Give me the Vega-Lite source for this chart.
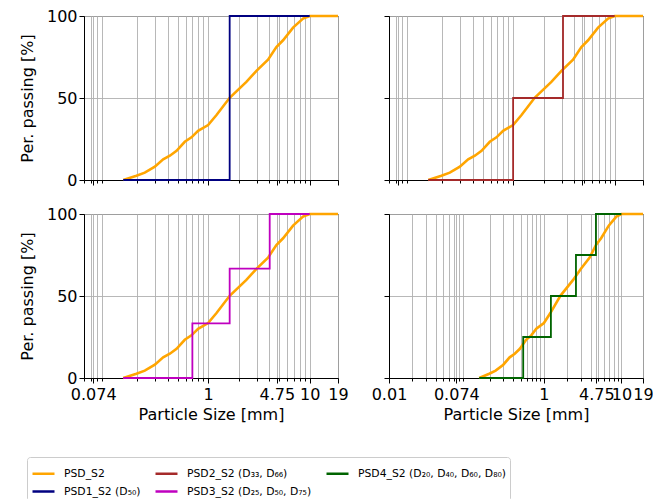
{
  "$schema": "https://vega.github.io/schema/vega-lite/v6.json",
  "padding": {"left": 18, "top": 7, "right": 5, "bottom": 5},
  "datasets": {
    "psd": [
      {"size": 0.146, "passing": 0, "series": "PSD_S2"},
      {"size": 0.197, "passing": 2.6, "series": "PSD_S2"},
      {"size": 0.238, "passing": 4.5, "series": "PSD_S2"},
      {"size": 0.299, "passing": 8.1, "series": "PSD_S2"},
      {"size": 0.361, "passing": 12.6, "series": "PSD_S2"},
      {"size": 0.42, "passing": 14.8, "series": "PSD_S2"},
      {"size": 0.489, "passing": 17.8, "series": "PSD_S2"},
      {"size": 0.589, "passing": 23.3, "series": "PSD_S2"},
      {"size": 0.686, "passing": 26, "series": "PSD_S2"},
      {"size": 0.797, "passing": 30, "series": "PSD_S2"},
      {"size": 1.0, "passing": 33.5, "series": "PSD_S2"},
      {"size": 1.21, "passing": 39.6, "series": "PSD_S2"},
      {"size": 1.63, "passing": 50.1, "series": "PSD_S2"},
      {"size": 2.38, "passing": 59.8, "series": "PSD_S2"},
      {"size": 2.99, "passing": 66.5, "series": "PSD_S2"},
      {"size": 3.89, "passing": 73.4, "series": "PSD_S2"},
      {"size": 4.7, "passing": 81.1, "series": "PSD_S2"},
      {"size": 5.47, "passing": 85.2, "series": "PSD_S2"},
      {"size": 6.86, "passing": 92.9, "series": "PSD_S2"},
      {"size": 8.6, "passing": 98.4, "series": "PSD_S2"},
      {"size": 10, "passing": 100, "series": "PSD_S2"},
      {"size": 19, "passing": 100, "series": "PSD_S2"}
    ],
    "steps": [
      {"panel": 1, "size": 0.146, "passing": 0, "series": "PSD1_S2 (D₅₀)"},
      {"panel": 1, "size": 1.63, "passing": 100, "series": "PSD1_S2 (D₅₀)"},
      {"panel": 1, "size": 10, "passing": 100, "series": "PSD1_S2 (D₅₀)"},
      {"panel": 2, "size": 0.146, "passing": 0, "series": "PSD2_S2 (D₃₃, D₆₆)"},
      {"panel": 2, "size": 1.0, "passing": 50, "series": "PSD2_S2 (D₃₃, D₆₆)"},
      {"panel": 2, "size": 3.1, "passing": 100, "series": "PSD2_S2 (D₃₃, D₆₆)"},
      {"panel": 2, "size": 10, "passing": 100, "series": "PSD2_S2 (D₃₃, D₆₆)"},
      {"panel": 3, "size": 0.146, "passing": 0, "series": "PSD3_S2 (D₂₅, D₅₀, D₇₅)"},
      {"panel": 3, "size": 0.70, "passing": 33.3, "series": "PSD3_S2 (D₂₅, D₅₀, D₇₅)"},
      {"panel": 3, "size": 1.63, "passing": 66.7, "series": "PSD3_S2 (D₂₅, D₅₀, D₇₅)"},
      {"panel": 3, "size": 4.04, "passing": 100, "series": "PSD3_S2 (D₂₅, D₅₀, D₇₅)"},
      {"panel": 3, "size": 10, "passing": 100, "series": "PSD3_S2 (D₂₅, D₅₀, D₇₅)"},
      {"panel": 4, "size": 0.146, "passing": 0, "series": "PSD4_S2 (D₂₀, D₄₀, D₆₀, D₈₀)"},
      {"panel": 4, "size": 0.54, "passing": 25, "series": "PSD4_S2 (D₂₀, D₄₀, D₆₀, D₈₀)"},
      {"panel": 4, "size": 1.23, "passing": 50, "series": "PSD4_S2 (D₂₀, D₄₀, D₆₀, D₈₀)"},
      {"panel": 4, "size": 2.59, "passing": 75, "series": "PSD4_S2 (D₂₀, D₄₀, D₆₀, D₈₀)"},
      {"panel": 4, "size": 4.69, "passing": 100, "series": "PSD4_S2 (D₂₀, D₄₀, D₆₀, D₈₀)"},
      {"panel": 4, "size": 10, "passing": 100, "series": "PSD4_S2 (D₂₀, D₄₀, D₆₀, D₈₀)"}
    ]
  },
  "columns": 2,
  "spacing": {"column": 21, "row": 16},
  "concat": [
    {
      "width": 254, "height": 164,
      "layer": [
        {
          "data": {"name": "psd"},
          "mark": {"type": "line", "strokeWidth": 2.6},
          "encoding": {
            "x": {"field": "size", "type": "quantitative", "scale": {"type": "log", "domain": [0.06, 19], "nice": false},
                  "axis": {"title": null, "labels": false, "values": [0.06,0.07,0.074,0.08,0.09,0.2,0.3,0.4,0.5,0.6,0.7,0.8,0.9,1,2,3,4,4.75,5,6,7,8,9,10,19],
                           "tickSize": {"condition": {"test": "indexof([0.01,0.074,1,4.75,10,19], datum.value) >= 0", "value": 5}, "value": 3}}},
            "y": {"field": "passing", "type": "quantitative", "scale": {"domain": [0, 100], "nice": false},
                  "axis": {"title": "Per. passing [%]", "values": [0, 50, 100]}},
            "color": {"field": "series", "type": "nominal",
                      "scale": {"domain": ["PSD_S2", "PSD2_S2 (D₃₃, D₆₆)", "PSD4_S2 (D₂₀, D₄₀, D₆₀, D₈₀)", "PSD1_S2 (D₅₀)", "PSD3_S2 (D₂₅, D₅₀, D₇₅)"],
                                "range": ["#FFA500", "#A52A2A", "#006400", "#000080", "#BF00BF"]}}
          }
        },
        {
          "data": {"name": "steps"},
          "transform": [{"filter": "datum.panel == 1"}],
          "mark": {"type": "line", "strokeWidth": 1.8, "interpolate": "step-after"},
          "encoding": {
            "x": {"field": "size", "type": "quantitative"},
            "y": {"field": "passing", "type": "quantitative"},
            "color": {"field": "series", "type": "nominal"}
          }
        }
      ]
    },
    {
      "width": 254, "height": 164,
      "layer": [
        {
          "data": {"name": "psd"},
          "mark": {"type": "line", "strokeWidth": 2.6},
          "encoding": {
            "x": {"field": "size", "type": "quantitative", "scale": {"type": "log", "domain": [0.06, 19], "nice": false},
                  "axis": {"title": null, "labels": false, "values": [0.06,0.07,0.074,0.08,0.09,0.2,0.3,0.4,0.5,0.6,0.7,0.8,0.9,1,2,3,4,4.75,5,6,7,8,9,10,19],
                           "tickSize": {"condition": {"test": "indexof([0.01,0.074,1,4.75,10,19], datum.value) >= 0", "value": 5}, "value": 3}}},
            "y": {"field": "passing", "type": "quantitative", "scale": {"domain": [0, 100], "nice": false},
                  "axis": {"title": null, "labels": false, "values": [0, 50, 100]}},
            "color": {"field": "series", "type": "nominal"}
          }
        },
        {
          "data": {"name": "steps"},
          "transform": [{"filter": "datum.panel == 2"}],
          "mark": {"type": "line", "strokeWidth": 1.8, "interpolate": "step-after"},
          "encoding": {
            "x": {"field": "size", "type": "quantitative"},
            "y": {"field": "passing", "type": "quantitative"},
            "color": {"field": "series", "type": "nominal"}
          }
        }
      ]
    },
    {
      "width": 254, "height": 164,
      "layer": [
        {
          "data": {"name": "psd"},
          "mark": {"type": "line", "strokeWidth": 2.6},
          "encoding": {
            "x": {"field": "size", "type": "quantitative", "scale": {"type": "log", "domain": [0.06, 19], "nice": false},
                  "axis": {"title": "Particle Size [mm]", "format": "~g", "labelExpr": "indexof([0.01,0.074,1,4.75,10,19], datum.value) >= 0 ? datum.label : ''",
                           "values": [0.06,0.07,0.074,0.08,0.09,0.2,0.3,0.4,0.5,0.6,0.7,0.8,0.9,1,2,3,4,4.75,5,6,7,8,9,10,19],
                           "tickSize": {"condition": {"test": "indexof([0.01,0.074,1,4.75,10,19], datum.value) >= 0", "value": 5}, "value": 3}}},
            "y": {"field": "passing", "type": "quantitative", "scale": {"domain": [0, 100], "nice": false},
                  "axis": {"title": "Per. passing [%]", "values": [0, 50, 100]}},
            "color": {"field": "series", "type": "nominal"}
          }
        },
        {
          "data": {"name": "steps"},
          "transform": [{"filter": "datum.panel == 3"}],
          "mark": {"type": "line", "strokeWidth": 1.8, "interpolate": "step-after"},
          "encoding": {
            "x": {"field": "size", "type": "quantitative"},
            "y": {"field": "passing", "type": "quantitative"},
            "color": {"field": "series", "type": "nominal"}
          }
        }
      ]
    },
    {
      "width": 254, "height": 164,
      "layer": [
        {
          "data": {"name": "psd"},
          "mark": {"type": "line", "strokeWidth": 2.6},
          "encoding": {
            "x": {"field": "size", "type": "quantitative", "scale": {"type": "log", "domain": [0.01, 19], "nice": false},
                  "axis": {"title": "Particle Size [mm]", "format": "~g", "labelExpr": "indexof([0.01,0.074,1,4.75,10,19], datum.value) >= 0 ? datum.label : ''",
                           "values": [0.01,0.02,0.03,0.04,0.05,0.06,0.07,0.074,0.08,0.09,0.2,0.3,0.4,0.5,0.6,0.7,0.8,0.9,1,2,3,4,4.75,5,6,7,8,9,10,19],
                           "tickSize": {"condition": {"test": "indexof([0.01,0.074,1,4.75,10,19], datum.value) >= 0", "value": 5}, "value": 3}}},
            "y": {"field": "passing", "type": "quantitative", "scale": {"domain": [0, 100], "nice": false},
                  "axis": {"title": null, "labels": false, "values": [0, 50, 100]}},
            "color": {"field": "series", "type": "nominal"}
          }
        },
        {
          "data": {"name": "steps"},
          "transform": [{"filter": "datum.panel == 4"}],
          "mark": {"type": "line", "strokeWidth": 1.8, "interpolate": "step-after"},
          "encoding": {
            "x": {"field": "size", "type": "quantitative"},
            "y": {"field": "passing", "type": "quantitative"},
            "color": {"field": "series", "type": "nominal"}
          }
        }
      ]
    }
  ],
  "resolve": {"scale": {"color": "shared"}},
  "config": {
    "font": "DejaVu Sans",
    "view": {"stroke": "black", "strokeWidth": 1},
    "line": {"strokeCap": "butt", "strokeJoin": "miter"},
    "axis": {
      "labelFont": "DejaVu Sans", "titleFont": "DejaVu Sans",
      "labelFontSize": 16, "titleFontSize": 16, "titleFontWeight": "normal",
      "labelColor": "black", "titleColor": "black",
      "domainColor": "black", "tickColor": "black", "tickSize": 5,
      "grid": true, "gridColor": "#b0b0b0", "gridWidth": 0.9,
      "labelOverlap": false, "labelFlush": false
    },
    "axisX": {"labelPadding": 3, "titlePadding": 4},
    "axisY": {"labelPadding": 2, "titlePadding": 11},
    "legend": {
      "orient": "none", "legendX": -57, "legendY": 441,
      "direction": "horizontal", "columns": 3, "gridAlign": "each", "title": null,
      "labelFont": "DejaVu Sans", "labelFontSize": 10.8, "labelColor": "black",
      "symbolType": "stroke", "symbolSize": 484, "symbolStrokeWidth": 2.5,
      "rowPadding": 0, "columnPadding": 9, "labelOffset": 8,
      "strokeColor": "#cccccc", "fillColor": "white", "padding": 4, "cornerRadius": 3,
      "labelLimit": 400
    }
  }
}
